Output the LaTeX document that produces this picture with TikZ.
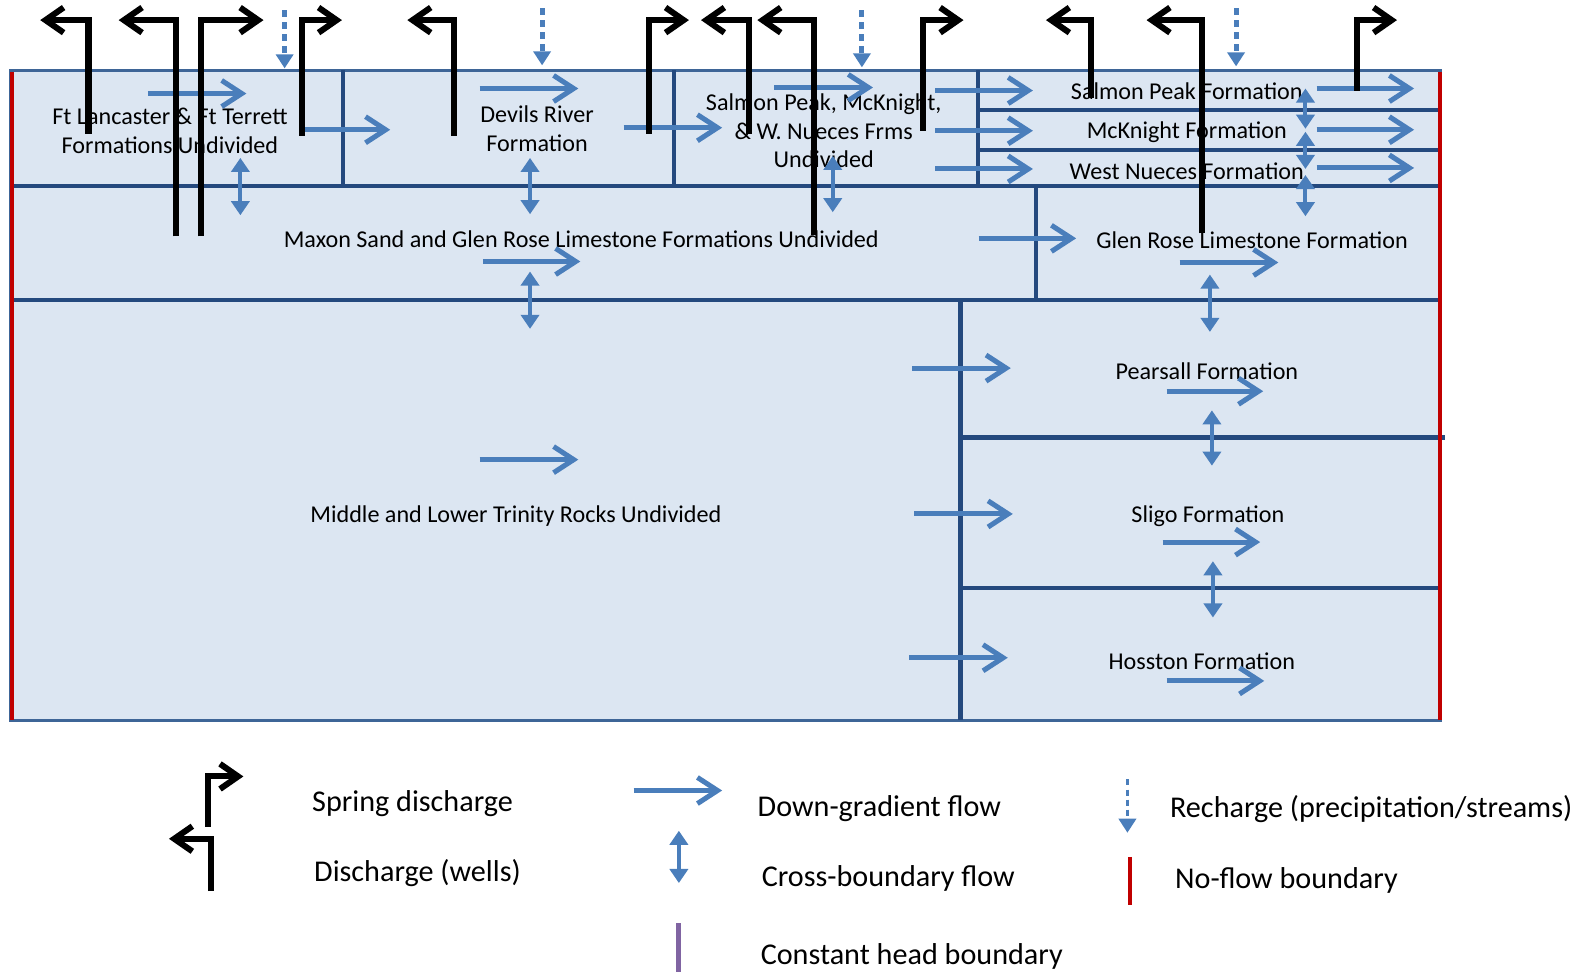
\documentclass[tikz,border=0pt]{standalone}
\usepackage{fontspec}
\setmainfont{Carlito}
\usetikzlibrary{arrows.meta}
\definecolor{layerfill}{HTML}{DCE6F2}
\definecolor{layerline}{HTML}{24497E}
\definecolor{outerline}{HTML}{3E6597}
\definecolor{flowblue}{HTML}{4A7EBB}
\definecolor{noflowred}{HTML}{C00000}
\definecolor{headpurple}{HTML}{8064A2}

\begin{document}
\begin{tikzpicture}[x=0.5pt,y=-0.5pt,
  unitlbl/.style={font=\fontsize{12}{14.3}\selectfont,align=center,inner sep=0pt},
  keylbl/.style={font=\fontsize{15}{18}\selectfont,anchor=west,inner sep=0pt},
  sep/.style={layerline,line width=2pt},
  downflow/.style={flowblue,line width=2.5pt,-{Straight Barb[length=10pt,width=13pt]}},
  crossflow/.style={flowblue,line width=2pt,{Triangle[length=7pt,width=9pt]}-{Triangle[length=7pt,width=9pt]}},
  recharge/.style={flowblue,line width=2.5pt,dash pattern=on 3.5pt off 2.5pt,-{Triangle[length=7pt,width=8.5pt]}},
  outflow/.style={black,line width=3pt,-{Straight Barb[length=9pt,width=12.5pt]}}]

\useasboundingbox (0,0) rectangle (1568,968);

% model layers
\fill[layerfill] (10,70) rectangle (1432,716);
\draw[outerline,line width=1.5pt] (10,70) rectangle (1432,716);
\draw[sep] (10,185) -- (1432,185);
\draw[sep] (10,298) -- (1432,298);
\draw[sep] (341,70) -- (341,185);
\draw[sep] (670,70) -- (670,185);
\draw[sep] (972,70) -- (972,185);
\draw[sep] (972,109) -- (1432,109);
\draw[sep] (972,149) -- (1432,149);
\draw[sep] (1030,185) -- (1030,298);
\draw[sep] (955,298) -- (955,716);
\draw[sep] (955,435) -- (1437,435);
\draw[sep] (955,585) -- (1432,585);

% unit names
\node[unitlbl] (ftl) at (169,130) {Ft Lancaster \& Ft Terrett\\Formations Undivided};
\node[unitlbl] (devils) at (534,128) {Devils River\\Formation};
\node[unitlbl] (spmk) at (819,130) {Salmon Peak, McKnight,\\\& W. Nueces Frms\\Undivided};
\node[unitlbl] (salmon) at (1180,91) {Salmon Peak Formation};
\node[unitlbl] (mcknight) at (1180,131) {McKnight Formation};
\node[unitlbl] (wnueces) at (1180,170) {West Nueces Formation};
\node[unitlbl] (maxon) at (578,238) {Maxon Sand and Glen Rose Limestone Formations Undivided};
\node[unitlbl] (glenrose) at (1245,239) {Glen Rose Limestone Formation};
\node[unitlbl] (pearsall) at (1200,369) {Pearsall Formation};
\node[unitlbl] (trinity) at (513,513) {Middle and Lower Trinity Rocks Undivided};
\node[unitlbl] (sligo) at (1201,513) {Sligo Formation};
\node[unitlbl] (hosston) at (1195,657) {Hosston Formation};

% down-gradient flow
\foreach \xa/\xb/\y in {147/245/93, 300/388/129, 477/575/88, 620/718/127,
    770/868/87, 930/1027/90, 930/1027/130, 930/1027/168,
    1309/1406/88, 1309/1406/129, 1309/1406/167, 973/1070/237,
    1173/1271/261, 480/577/260, 907/1005/366, 1160/1256/389,
    477/575/457, 909/1007/511, 1156/1253/539, 904/1002/654, 1160/1257/677}
  \draw[downflow] (\xa,\y) -- (\xb,\y);

% cross-boundary flow
\foreach \x/\ya/\yb in {239/157/214, 527/157/213, 828/155/211,
    1298/88/128, 1298/131/168, 1298/174/215, 1203/273/330,
    527/270/327, 1205/408/463, 1206/558/614}
  \draw[crossflow] (\x,\ya) -- (\x,\yb);

% recharge
\foreach \x/\ya/\yb in {283/10/68, 539/8/65, 857/10/67, 1229/8/66}
  \draw[recharge] (\x,\ya) -- (\x,\yb);

% wells
\foreach \x/\yb/\tip in {88/133/40, 175/235/118, 451/135/405, 745/133/697,
    809/234/753, 1085/97/1040, 1195/232/1140}
  \draw[outflow] (\x,\yb) -- (\x,20) -- (\tip,20);

% springs
\foreach \x/\yb/\tip in {200/235/262, 300/135/340, 645/133/685,
    918/130/958, 1349/90/1389}
  \draw[outflow] (\x,\yb) -- (\x,20) -- (\tip,20);

% no-flow boundaries
\draw[noflowred,line width=2pt] (12,72) -- (12,716);
\draw[noflowred,line width=2pt] (1432,72) -- (1432,716);

% legend
\draw[outflow] (207,822) -- (207,772) -- (242,772);
\node[keylbl] (kspring) at (310,799) {Spring discharge};
\draw[outflow] (210,886) -- (210,834) -- (168,834);
\node[keylbl] (kwells) at (312,868) {Discharge (wells)};
\draw[downflow] (630,786) -- (718,786);
\node[keylbl] (kdown) at (753,804) {Down-gradient flow};
\draw[crossflow] (675,826) -- (675,878);
\node[keylbl] (kcross) at (757,873) {Cross-boundary flow};
\draw[headpurple,line width=2.5pt] (675,918) -- (675,966);
\node[keylbl] (khead) at (756,951) {Constant head boundary};
\draw[recharge,line width=1.8pt,dash pattern=on 3pt off 2pt] (1121,775) -- (1121,828);
\node[keylbl] (krech) at (1163,804) {Recharge (precipitation/streams)};
\draw[noflowred,line width=2pt] (1124,852) -- (1124,900);
\node[keylbl] (knoflow) at (1168,875) {No-flow boundary};

\end{tikzpicture}
\end{document}
